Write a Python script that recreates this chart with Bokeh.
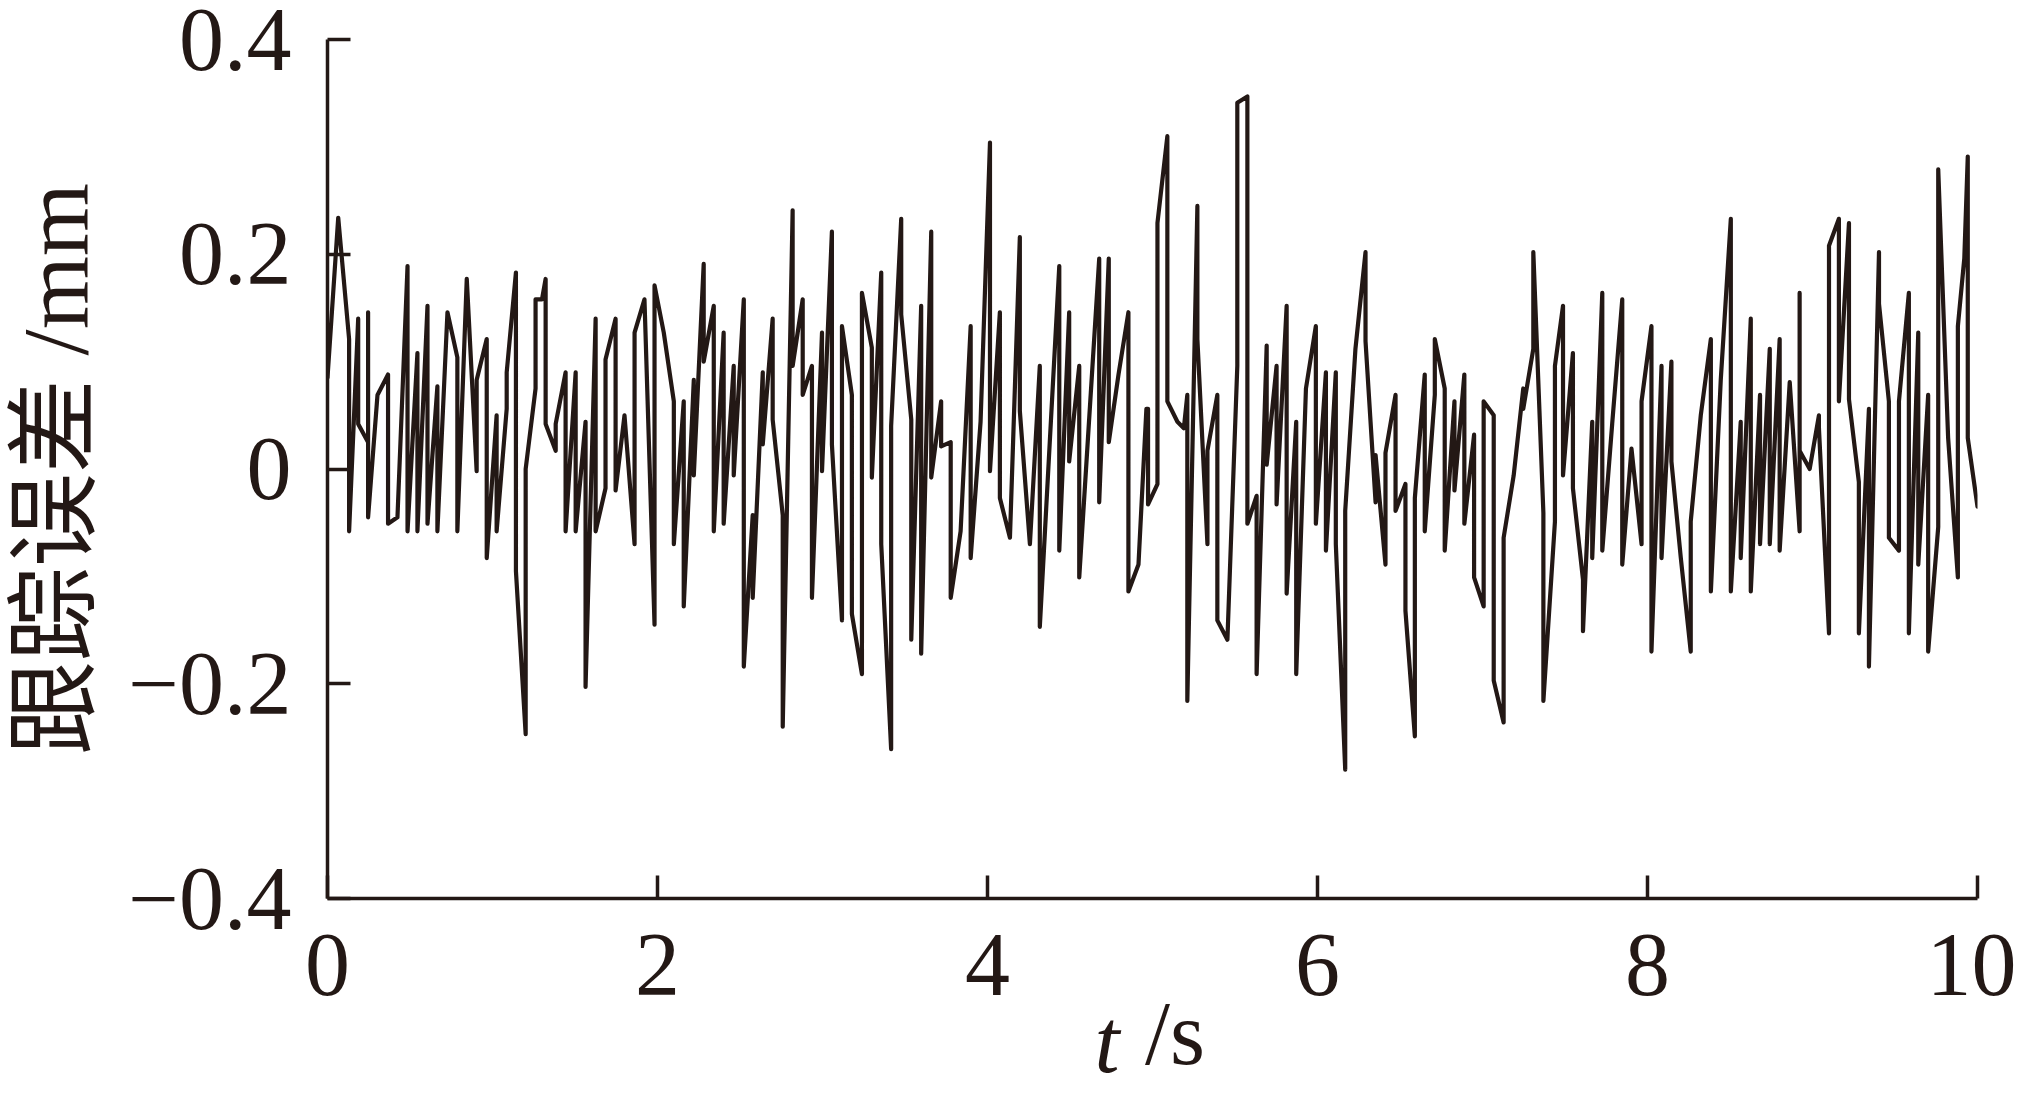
from bokeh.plotting import figure
from bokeh.models import Range1d, FixedTicker, Label
from bokeh.embed import file_html
from bokeh.resources import INLINE

INK = "#231815"

# time (s) and tracking error (mm) (vertices of the polyline)
t = [0.000, 0.065, 0.131, 0.131, 0.186, 0.186, 0.246, 0.246, 0.246, 0.303,
     0.367, 0.367, 0.424, 0.485, 0.485, 0.545, 0.545, 0.606, 0.606, 0.666,
     0.666, 0.727, 0.787, 0.787, 0.844, 0.904, 0.904, 0.965, 0.965, 1.025,
     1.025, 1.086, 1.086, 1.142, 1.142, 1.201, 1.201,
     1.261, 1.261, 1.300, 1.322, 1.322, 1.383, 1.383, 1.443, 1.443, 1.504,
     1.504, 1.564, 1.564, 1.625, 1.625, 1.685, 1.685, 1.746, 1.746, 1.800,
     1.861, 1.861, 1.921, 1.982, 1.982, 2.038, 2.099, 2.099, 2.159, 2.159,
     2.220, 2.220, 2.280, 2.280, 2.341, 2.341, 2.401, 2.401, 2.462, 2.462,
     2.523, 2.523, 2.577, 2.577, 2.638, 2.638, 2.698, 2.698, 2.759, 2.759,
     2.819, 2.819, 2.880, 2.880, 2.936, 2.936, 2.997, 2.997, 3.057, 3.057,
     3.118, 3.118, 3.178, 3.178, 3.239, 3.239, 3.299, 3.299, 3.356, 3.356,
     3.416, 3.416, 3.477, 3.477, 3.538, 3.538, 3.598, 3.598, 3.659, 3.659,
     3.719, 3.719,
     3.777, 3.777, 3.837, 3.898, 3.898, 3.958, 4.015, 4.015, 4.075, 4.075,
     4.136, 4.196, 4.196, 4.257, 4.317, 4.317, 4.435, 4.435, 4.495, 4.495,
     4.556, 4.556, 4.677, 4.677, 4.735, 4.735, 4.794, 4.854, 4.854, 4.915,
     4.963,
     4.973, 4.973, 5.030, 5.030, 5.090, 5.090, 5.151, 5.190, 5.211, 5.211,
     5.272, 5.272, 5.333, 5.333, 5.393, 5.393, 5.454, 5.514, 5.514, 5.575,
     5.575, 5.631, 5.631, 5.692, 5.692, 5.752, 5.752, 5.813, 5.813, 5.871,
     5.871, 5.930, 5.990, 5.990, 6.051, 6.051, 6.111, 6.111, 6.168, 6.168,
     6.230, 6.291, 6.291, 6.352, 6.352, 6.412, 6.412, 6.473, 6.473, 6.533,
     6.533, 6.590, 6.590, 6.650, 6.650, 6.711, 6.711, 6.771, 6.771, 6.830,
     6.830, 6.890, 6.890, 6.949, 6.949, 7.007, 7.007, 7.068, 7.068, 7.128,
     7.128, 7.189, 7.247, 7.247, 7.308, 7.308, 7.369, 7.369,
     7.439, 7.439, 7.488, 7.488, 7.548, 7.548, 7.609, 7.609, 7.665, 7.665,
     7.726, 7.726, 7.786, 7.847, 7.847, 7.903, 7.964, 7.964, 8.024, 8.024,
     8.085, 8.085, 8.145, 8.145, 8.202, 8.262, 8.262, 8.323, 8.384, 8.384,
     8.444, 8.505, 8.505, 8.565, 8.565, 8.626, 8.626, 8.682, 8.682,
     8.741, 8.741, 8.801, 8.801, 8.862, 8.922, 8.922, 8.922, 8.983, 9.039,
     9.039, 9.100, 9.100, 9.160, 9.160, 9.221, 9.221, 9.281, 9.281, 9.342,
     9.342, 9.403, 9.403, 9.463, 9.463, 9.524, 9.524, 9.584, 9.584, 9.641,
     9.641, 9.701, 9.701, 9.762, 9.762, 9.822, 9.881, 9.881, 9.920, 9.941,
     9.941, 10.000]

err = [0.085, 0.234, 0.121, -0.058, 0.140, 0.042, 0.025, 0.146, -0.045, 0.069,
       0.088, -0.051, -0.045, 0.189, -0.058, 0.108, -0.058, 0.152, -0.051, 0.077,
       -0.058, 0.146, 0.104, -0.058, 0.177, -0.002, 0.083, 0.121, -0.083, 0.050,
       -0.058, 0.056, 0.090, 0.183, -0.095, -0.247, 0.000,
       0.075, 0.158, 0.158, 0.177, 0.042, 0.017, 0.042, 0.090, -0.058, 0.090,
       -0.058, 0.044, -0.203, 0.140, -0.058, -0.018, 0.102, 0.140, -0.020, 0.050,
       -0.070, 0.127, 0.158, -0.145, 0.171, 0.127, 0.063, -0.070, 0.063, -0.128,
       0.083, -0.006, 0.191, 0.100, 0.152, -0.058, 0.127, -0.051, 0.096, -0.006,
       0.158, -0.184, -0.043, -0.120, 0.090, 0.023, 0.140, 0.046, -0.043, -0.240,
       0.241, 0.096, 0.158, 0.069, 0.096, -0.120, 0.127, -0.002, 0.221, 0.023,
       -0.141, 0.133, 0.069, -0.135, -0.191, 0.164, 0.113, -0.008, 0.183, -0.070,
       -0.261, 0.040, 0.233, 0.144, 0.046, -0.159, 0.152, -0.172, 0.221, -0.008,
       0.063, 0.021,
       0.025, -0.120, -0.058, 0.133, -0.083, 0.044, 0.304, -0.002, 0.146, -0.027,
       -0.064, 0.216, 0.054, -0.070, 0.096, -0.147, 0.189, -0.076, 0.146, 0.007,
       0.096, -0.101, 0.196, -0.031, 0.196, 0.025, 0.088, 0.146, -0.114, -0.089,
       0.056,
       0.056, -0.033, -0.014, 0.229, 0.310, 0.063, 0.044, 0.038, 0.069, -0.216,
       0.245, 0.121, -0.070, 0.017, 0.069, -0.141, -0.159, 0.096, 0.341, 0.347,
       -0.051, -0.025, -0.191, 0.115, 0.004, 0.096, -0.033, 0.152, -0.116, 0.044,
       -0.191, 0.075, 0.133, -0.051, 0.090, -0.076, 0.090, -0.070, -0.280, -0.039,
       0.112, 0.202, 0.119, -0.031, 0.013, -0.089, 0.015, 0.069, -0.039, -0.014,
       -0.132, -0.249, -0.027, 0.088, -0.058, 0.069, 0.121, 0.075, -0.076, 0.063,
       -0.020, 0.088, -0.051, 0.032, -0.101, -0.128, 0.063, 0.050, -0.197, -0.236,
       -0.064, -0.006, 0.075, 0.056, 0.112, 0.202, -0.041, -0.216,
       -0.049, 0.096, 0.152, -0.006, 0.108, -0.018, -0.103, -0.151, 0.044, -0.083,
       0.164, -0.076, 0.042, 0.158, -0.089, 0.019, -0.070, 0.063, 0.133, -0.170,
       0.096, -0.083, 0.100, 0.007, -0.083, -0.170, -0.049, 0.050, 0.121, -0.114,
       0.083, 0.233, -0.114, 0.044, -0.083, 0.140, -0.114, 0.069, -0.070,
       0.112, -0.070, 0.121, -0.076, 0.081, -0.058, 0.164, 0.017, 0.000, 0.050,
       0.038, -0.153, 0.208, 0.233, 0.063, 0.229, 0.065, -0.012, -0.153, 0.056,
       -0.184, 0.202, 0.154, 0.063, -0.064, -0.076, 0.063, 0.164, -0.153, 0.127,
       -0.089, 0.069, -0.170, -0.054, 0.279, 0.029, -0.101, 0.133, 0.196, 0.291,
       0.029, -0.035]

x_ticks = [0, 2, 4, 6, 8, 10]
x_tick_labels = ["0", "2", "4", "6", "8", "10"]
y_ticks = [-0.4, -0.2, 0.0, 0.2, 0.4]
y_tick_labels = ["\u22120.4", "\u22120.2", "0", "0.2", "0.4"]
y_title = "跟踪误差 /mm"
x_title_var = "t"
x_title_unit = "\u00a0\u00a0/s"

p = figure(width=2016, height=1085, output_backend="svg", toolbar_location=None,
           x_range=Range1d(0, 10), y_range=Range1d(-0.4, 0.4),
           min_border_left=325, min_border_right=39, min_border_top=39,
           min_border_bottom=186, background_fill_color="white",
           border_fill_color="white")
p.grid.visible = False
p.outline_line_color = None

p.line(t, err, line_color=INK, line_width=4.2, line_join="round", line_cap="round")

for ax in (p.xaxis[0], p.yaxis[0]):
    ax.axis_line_color = INK
    ax.axis_line_width = 3.5
    ax.major_tick_line_color = INK
    ax.major_tick_line_width = 3.5
    ax.major_tick_in = 23
    ax.major_tick_out = 0
    ax.minor_tick_line_color = None
    ax.major_label_text_font = "Liberation Serif"
    ax.major_label_text_font_size = "90px"
    ax.major_label_text_color = INK
    ax.axis_label_text_color = INK
    ax.axis_label_text_font_style = "normal"

p.xaxis.ticker = FixedTicker(ticks=x_ticks)
p.yaxis.ticker = FixedTicker(ticks=y_ticks)
p.xaxis.major_label_overrides = {k: v for k, v in zip(x_ticks, x_tick_labels)}
p.yaxis.major_label_overrides = {k: v for k, v in zip(y_ticks, y_tick_labels)}
p.xaxis.major_label_standoff = 36
p.yaxis.major_label_standoff = 36

p.yaxis.axis_label = y_title
p.yaxis.axis_label_text_font = "Liberation Serif, Noto Sans CJK SC"
p.yaxis.axis_label_text_font_size = "94px"
p.yaxis.axis_label_standoff = 18

# x title: unit as the axis label, italic variable "t" as a label beside it
p.xaxis.axis_label = x_title_unit
p.xaxis.axis_label_text_font = "Liberation Serif"
p.xaxis.axis_label_text_font_size = "90px"
p.xaxis.axis_label_standoff = -14

p.add_layout(Label(x=4.80, y=-0.533, text=x_title_var, text_font="Liberation Serif",
                   text_font_style="italic", text_font_size="90px", text_color=INK,
                   text_align="right", text_baseline="alphabetic"), "right")

open("out.html", "w").write(file_html(p, INLINE))
